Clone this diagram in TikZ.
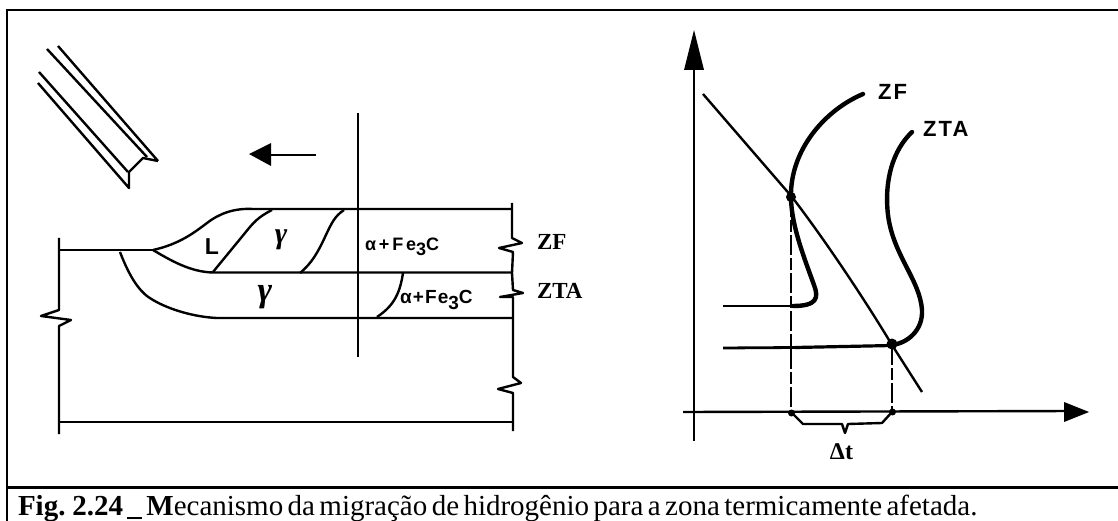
\documentclass[tikz,border=0pt]{standalone}
\usepackage{fontspec}
\setmainfont{Liberation Serif}
\newfontfamily\labelsans[LetterSpace=6]{Liberation Sans}
\newfontfamily\widesans[LetterSpace=16]{Liberation Sans}
\newfontfamily\axissans[LetterSpace=10]{Liberation Sans}
\tikzset{
  framerule/.style={line width=2.6pt},
  thinline/.style={line width=2.4pt,line join=round},
  thickcurve/.style={line width=4.4pt,line cap=round,line join=round},
  dashline/.style={line width=2.8pt,dash pattern=on 20pt off 3pt on 12pt off 3pt},
  head/.style={fill=black,draw=none},
  lab/.style={inner sep=0pt,outer sep=0pt,anchor=center},
}
\begin{document}
\begin{tikzpicture}[x=1pt,y=-1pt]
\useasboundingbox (0,0) rectangle (1118,521);
\clip (0,0) rectangle (1118,521);
% frame
\draw[framerule] (1118,10) -- (7,10) -- (7,521);
\draw[framerule] (7,487.5) -- (1118,487.5);
% electrode
\draw[thinline] (58,46) -- (158,161);
\draw[thinline] (47,49) -- (147,157);
\draw[thinline] (39,72) -- (128,172);
\draw[thinline] (38,83) -- (129,188) -- (129,172) -- (143,158) -- (158,161);
% travel arrow
\draw[thinline] (316,155) -- (265,155);
\fill[head] (249,154) -- (271,143) -- (271,166) -- cycle;
% section line
\draw[thinline] (358,113) -- (358,357);
% plate outline
\draw[thinline] (59,238) -- (59,310) -- (41,316) -- (71,320) -- (59,326) -- (59,434);
\draw[thinline] (59,422) -- (512,422);
\draw[thinline] (59,250) -- (153,250);
\draw[thinline] (512,203) -- (512,238) -- (522,243) -- (499,248) -- (513,252) -- (512,273) -- (513,290) -- (523,293) -- (500,297) -- (513,297) -- (513,377) -- (521,383) -- (498,389) -- (513,393) -- (513,431);
% zones
\draw[thinline] (153,250) .. controls (180,244) and (195,232) .. (207,223) .. controls (220,213) and (235,208) .. (253,209) -- (512,209);
\draw[thinline] (153,250) .. controls (170,260) and (190,272) .. (213,272.5) -- (512,272.5);
\draw[thinline] (120,252) .. controls (130,278) and (140,293) .. (153,300) .. controls (170,310) and (195,317) .. (217,318) -- (513,318);
\draw[thinline] (272,210) .. controls (258,217) and (253,223) .. (245,233) -- (213,272);
\draw[thinline] (344,210) .. controls (335,216) and (332,222) .. (325,237) .. controls (318,252) and (312,263) .. (300,273);
\draw[thinline] (403,273) .. controls (400,292) and (395,305) .. (377,317);
% zone labels
\node[lab] (liq) at (212,247) {\fontsize{23}{23}\selectfont\labelsans\bfseries L};
\node[lab] (gamA) at (281,240) {\fontsize{30}{30}\selectfont\bfseries\itshape γ};
\node[lab] (gamB) at (265,297) {\fontsize{35}{35}\selectfont\bfseries\itshape γ};
\node[lab,anchor=base west] (feA) at (365,251) {\fontsize{18}{18}\selectfont\widesans\bfseries α+Fe\raisebox{-5pt}{3}C};
\node[lab,anchor=base west] (feB) at (400,303) {\fontsize{19}{19}\selectfont\labelsans\bfseries α+Fe\raisebox{-6pt}{3}C};
\node[lab,anchor=base west] (zf) at (537,250) {\fontsize{23}{23}\selectfont\bfseries ZF};
\node[lab,anchor=base west] (zta) at (537,298) {\fontsize{23}{23}\selectfont\bfseries ZTA};
% axes
\draw[thinline] (694,60) -- (694,441);
\fill[head] (694,30) -- (704,70) -- (684,70) -- cycle;
\draw[thinline] (683,412) -- (1075,411);
\fill[head] (1089,412) -- (1064,402) -- (1064,422) -- cycle;
% cooling line
\draw[thinline] (703,94) -- (792,197) .. controls (825,240) and (865,300) .. (892,345) -- (922,392);
% curves
\draw[thickcurve] (863,94) .. controls (825,110) and (790,150) .. (791,197) .. controls (791,225) and (805,260) .. (814,285) .. controls (819,298) and (817,306) .. (793,306);
\draw[line width=2.8pt] (793,306) -- (723,306);
\draw[thickcurve] (912,132) .. controls (893,150) and (884,180) .. (888,215) .. controls (893,255) and (920,280) .. (922,310) .. controls (923,330) and (908,343) .. (892,345);
\draw[line width=3.2pt] (892,345.5) -- (795,347.5);
\draw[line width=2.8pt] (795,347.5) -- (723,348);
% projections
\draw[dashline] (791,197) -- (791,412);
\draw[dashline] (892,345) -- (892,412);
\fill (791,197) circle (5pt);
\fill (892,344) circle (5.5pt);
\fill (791.5,413) circle (3.5pt);
\fill (892.5,412) circle (3.5pt);
% brace
\draw[thinline] (792,413) -- (803,424) -- (842,424) -- (845,433) -- (848,424) -- (882,423) -- (892,412);
\node[lab] (dt) at (841.5,452) {\fontsize{24}{24}\selectfont\bfseries Δt};
\node[lab,anchor=base west] (zfb) at (878,100) {\fontsize{22}{22}\selectfont\axissans\bfseries ZF};
\node[lab,anchor=base west] (ztab) at (923,137) {\fontsize{22}{22}\selectfont\axissans\bfseries ZTA};
% caption
\node[lab,anchor=base west] (cap) at (18,515) {\fontsize{29}{29}\selectfont\spaceskip=4.4pt\relax\textbf{Fig. 2.24 \_ M}ecanismo da migração de hidrogênio para a zona termicamente afetada.};
\end{tikzpicture}
\end{document}
